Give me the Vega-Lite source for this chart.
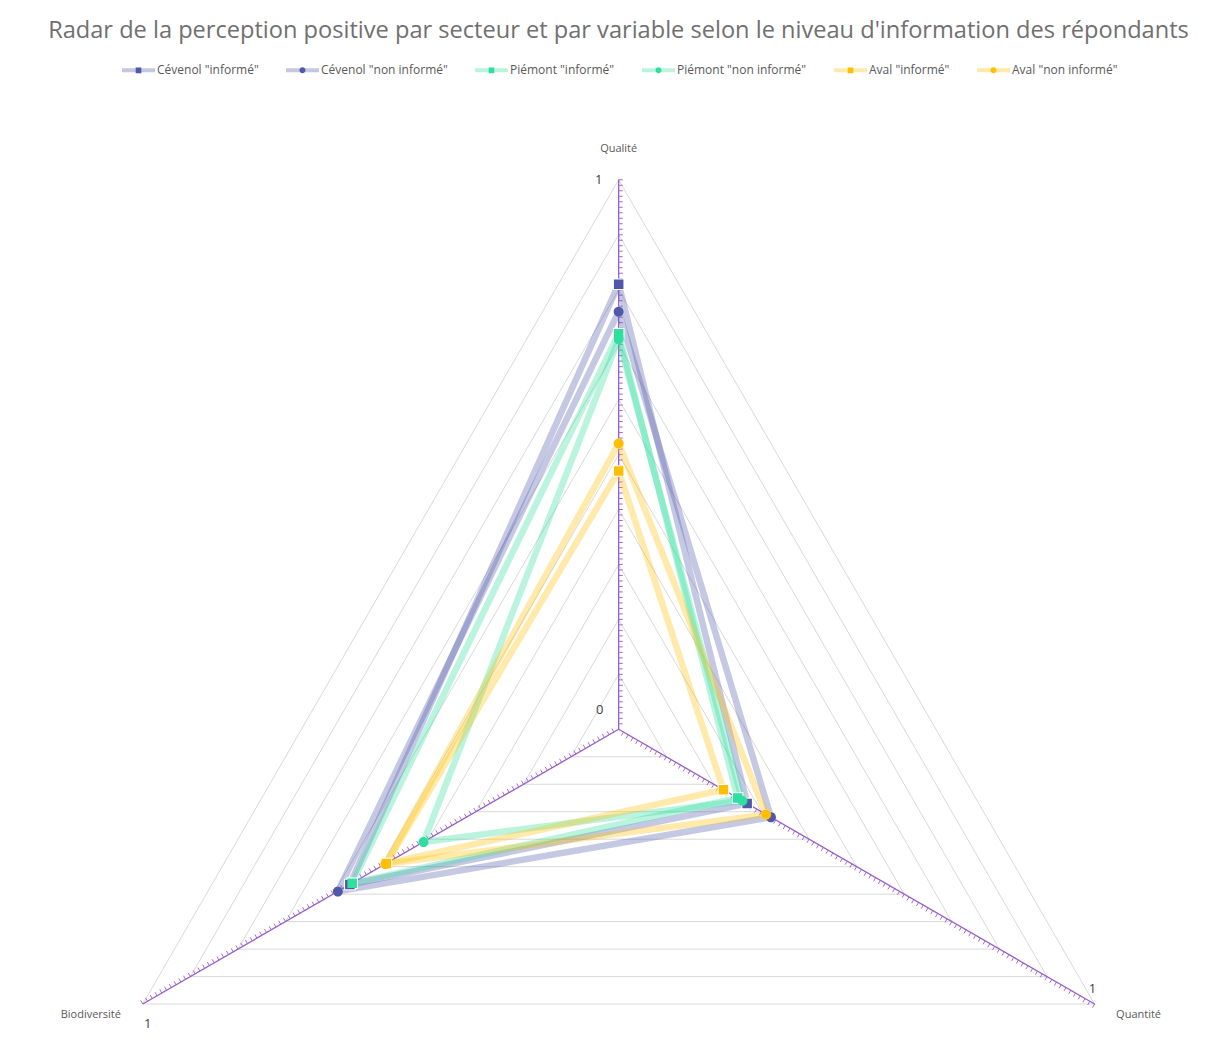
{
  "$schema": "https://vega.github.io/schema/vega-lite/v6.json",
  "width": 1215,
  "height": 960,
  "autosize": {"type": "none"},
  "padding": {"top": 90, "left": 0, "right": 0, "bottom": 0},
  "background": "#FFFFFF",
  "config": {"view": {"stroke": null}, "font": "Open Sans"},
  "title": {
    "text": "Radar de la perception positive par secteur et par variable selon le niveau d'information des répondants",
    "font": "Open Sans",
    "fontSize": 23.6,
    "fontWeight": "normal",
    "color": "#707070",
    "anchor": "middle",
    "frame": "group",
    "dx": 11,
    "offset": -3,
    "baseline": "middle"
  },
  "encoding": {
    "x": {"field": "x", "type": "quantitative", "scale": {"domain": [-1.1259, 1.0852], "nice": false, "zero": false}, "axis": null},
    "y": {"field": "y", "type": "quantitative", "scale": {"domain": [-0.5836, 1.1634], "nice": false, "zero": false}, "axis": null}
  },
  "layer": [
    {
      "data": {"values": [{"niveaux": [0.1, 0.2, 0.3, 0.4, 0.5, 0.6, 0.7, 0.8, 0.9, 1.0], "variables": ["Qualité", "Quantité", "Biodiversité"]}]},
      "transform": [
        {"flatten": ["niveaux"], "as": ["niveau"]},
        {"flatten": ["variables"], "as": ["variable"]},
        {"calculate": "indexof(['Qualité','Quantité','Biodiversité'], datum.variable)", "as": "k"},
        {"calculate": "datum.niveau*sin(datum.k*2*PI/3)", "as": "x"},
        {"calculate": "datum.niveau*cos(datum.k*2*PI/3)", "as": "y"}
      ],
      "mark": {"type": "line", "interpolate": "linear-closed", "color": "#D9D9D9", "strokeWidth": 1},
      "encoding": {"detail": {"field": "niveau", "type": "nominal"}, "order": {"field": "k", "type": "quantitative"}}
    },
    {
      "data": {"values": [{"variable": "Qualité"}, {"variable": "Quantité"}, {"variable": "Biodiversité"}]},
      "transform": [
        {"calculate": "indexof(['Qualité','Quantité','Biodiversité'], datum.variable)", "as": "k"},
        {"calculate": "0", "as": "x"},
        {"calculate": "0", "as": "y"},
        {"calculate": "sin(datum.k*2*PI/3)", "as": "x2"},
        {"calculate": "cos(datum.k*2*PI/3)", "as": "y2"}
      ],
      "mark": {"type": "rule", "color": "#9A5CC9", "strokeWidth": 1.3},
      "encoding": {"x2": {"field": "x2"}, "y2": {"field": "y2"}}
    },
    {
      "data": {"values": [{"variables": ["Qualité", "Quantité", "Biodiversité"], "graduations": [0.01, 0.02, 0.03, 0.04, 0.05, 0.06, 0.07, 0.08, 0.09, 0.1, 0.11, 0.12, 0.13, 0.14, 0.15, 0.16, 0.17, 0.18, 0.19, 0.2, 0.21, 0.22, 0.23, 0.24, 0.25, 0.26, 0.27, 0.28, 0.29, 0.3, 0.31, 0.32, 0.33, 0.34, 0.35, 0.36, 0.37, 0.38, 0.39, 0.4, 0.41, 0.42, 0.43, 0.44, 0.45, 0.46, 0.47, 0.48, 0.49, 0.5, 0.51, 0.52, 0.53, 0.54, 0.55, 0.56, 0.57, 0.58, 0.59, 0.6, 0.61, 0.62, 0.63, 0.64, 0.65, 0.66, 0.67, 0.68, 0.69, 0.7, 0.71, 0.72, 0.73, 0.74, 0.75, 0.76, 0.77, 0.78, 0.79, 0.8, 0.81, 0.82, 0.83, 0.84, 0.85, 0.86, 0.87, 0.88, 0.89, 0.9, 0.91, 0.92, 0.93, 0.94, 0.95, 0.96, 0.97, 0.98, 0.99, 1.0]}]},
      "transform": [
        {"flatten": ["variables"], "as": ["variable"]},
        {"flatten": ["graduations"], "as": ["t"]},
        {"calculate": "indexof(['Qualité','Quantité','Biodiversité'], datum.variable)", "as": "k"},
        {"calculate": "datum.t*sin(datum.k*2*PI/3)", "as": "x"},
        {"calculate": "datum.t*cos(datum.k*2*PI/3)", "as": "y"},
        {"calculate": "datum.x + 0.0075*cos(datum.k*2*PI/3)", "as": "x2"},
        {"calculate": "datum.y - 0.0075*sin(datum.k*2*PI/3)", "as": "y2"}
      ],
      "mark": {"type": "rule", "color": "#9A5CC9", "strokeWidth": 0.9},
      "encoding": {"x2": {"field": "x2"}, "y2": {"field": "y2"}}
    },
    {
      "data": {"name": "series", "values": [
        {"serie": "Cévenol \"informé\"", "variable": "Qualité", "valeur": 0.81},
        {"serie": "Cévenol \"informé\"", "variable": "Quantité", "valeur": 0.27},
        {"serie": "Cévenol \"informé\"", "variable": "Biodiversité", "valeur": 0.565},
        {"serie": "Cévenol \"non informé\"", "variable": "Qualité", "valeur": 0.76},
        {"serie": "Cévenol \"non informé\"", "variable": "Quantité", "valeur": 0.32},
        {"serie": "Cévenol \"non informé\"", "variable": "Biodiversité", "valeur": 0.59},
        {"serie": "Piémont \"informé\"", "variable": "Qualité", "valeur": 0.72},
        {"serie": "Piémont \"informé\"", "variable": "Quantité", "valeur": 0.25},
        {"serie": "Piémont \"informé\"", "variable": "Biodiversité", "valeur": 0.56},
        {"serie": "Piémont \"non informé\"", "variable": "Qualité", "valeur": 0.71},
        {"serie": "Piémont \"non informé\"", "variable": "Quantité", "valeur": 0.26},
        {"serie": "Piémont \"non informé\"", "variable": "Biodiversité", "valeur": 0.41},
        {"serie": "Aval \"informé\"", "variable": "Qualité", "valeur": 0.47},
        {"serie": "Aval \"informé\"", "variable": "Quantité", "valeur": 0.22},
        {"serie": "Aval \"informé\"", "variable": "Biodiversité", "valeur": 0.488},
        {"serie": "Aval \"non informé\"", "variable": "Qualité", "valeur": 0.52},
        {"serie": "Aval \"non informé\"", "variable": "Quantité", "valeur": 0.31},
        {"serie": "Aval \"non informé\"", "variable": "Biodiversité", "valeur": 0.49}
      ]},
      "transform": [
        {"calculate": "indexof(['Qualité','Quantité','Biodiversité'], datum.variable)", "as": "k"},
        {"calculate": "datum.valeur*sin(datum.k*2*PI/3)", "as": "x"},
        {"calculate": "datum.valeur*cos(datum.k*2*PI/3)", "as": "y"}
      ],
      "layer": [
        {
          "mark": {"type": "line", "interpolate": "linear-closed", "strokeWidth": 6.5, "strokeOpacity": 0.33, "strokeJoin": "round"},
          "encoding": {
            "stroke": {
              "field": "serie", "type": "nominal", "sort": null,
              "scale": {
                "range": ["#5059A9", "#5059A9", "#2EDF9E", "#2EDF9E", "#FFBF00", "#FFBF00"]
              },
              "legend": {
                "orient": "none", "legendX": 120, "legendY": -38.5, "direction": "horizontal", "title": null,
                "symbolType": "M-1,0H1", "symbolSize": 1089, "symbolStrokeWidth": 4, "symbolOpacity": 0.33,
                "labelFont": "Open Sans", "labelFontSize": 12, "labelColor": "#595959", "labelOffset": 0,
                "columnPadding": 19, "padding": 0, "zindex": 0
              }
            },
            "order": {"field": "k", "type": "quantitative"}
          }
        },
        {
          "transform": [{"filter": "indexof(datum.serie, 'non') < 0"}],
          "mark": {"type": "point", "shape": "square", "filled": true, "size": 135, "color": "white", "opacity": 1}
        },
        {
          "transform": [{"filter": "indexof(datum.serie, 'non') >= 0"}],
          "mark": {"type": "point", "shape": "circle", "filled": true, "size": 105, "color": "white", "opacity": 1}
        },
        {
          "mark": {"type": "point", "filled": true, "size": 3125, "strokeWidth": 0, "opacity": 1},
          "encoding": {
            "fill": {
              "field": "serie", "type": "nominal",
              "scale": {
                "domain": ["Cévenol \"informé\"", "Cévenol \"non informé\"", "Piémont \"informé\"", "Piémont \"non informé\"", "Aval \"informé\"", "Aval \"non informé\""],
                "range": ["#5059A9", "#5059A9", "#2EDF9E", "#2EDF9E", "#FFBF00", "#FFBF00"]
              },
              "legend": {
                "orient": "none", "legendX": 120, "legendY": -38.5, "direction": "horizontal", "title": null,
                "symbolSize": 1089, "symbolStrokeWidth": 4, "symbolStrokeColor": "transparent", "symbolOpacity": 1,
                "labelFont": "Open Sans", "labelFontSize": 12, "labelColor": "#595959", "labelOpacity": 0, "labelOffset": 0,
                "columnPadding": 19, "padding": 0, "zindex": 1
              }
            },
            "shape": {
              "field": "serie", "type": "nominal",
              "scale": {
                "domain": ["Cévenol \"informé\"", "Cévenol \"non informé\"", "Piémont \"informé\"", "Piémont \"non informé\"", "Aval \"informé\"", "Aval \"non informé\""],
                "range": [
                  "M-1,0H1M-0.17,-0.17H0.17V0.17H-0.17Z",
                  "M-1,0H1M0.18,0A0.18,0.18,0,1,1,-0.18,0A0.18,0.18,0,1,1,0.18,0Z",
                  "M-1,0H1M-0.17,-0.17H0.17V0.17H-0.17Z",
                  "M-1,0H1M0.18,0A0.18,0.18,0,1,1,-0.18,0A0.18,0.18,0,1,1,0.18,0Z",
                  "M-1,0H1M-0.17,-0.17H0.17V0.17H-0.17Z",
                  "M-1,0H1M0.18,0A0.18,0.18,0,1,1,-0.18,0A0.18,0.18,0,1,1,0.18,0Z"
                ]
              },
              "legend": {
                "orient": "none", "legendX": 120, "legendY": -38.5, "direction": "horizontal", "title": null,
                "symbolSize": 1089, "symbolStrokeWidth": 4, "symbolStrokeColor": "transparent", "symbolOpacity": 1,
                "labelFont": "Open Sans", "labelFontSize": 12, "labelColor": "#595959", "labelOpacity": 0, "labelOffset": 0,
                "columnPadding": 19, "padding": 0, "zindex": 1
              }
            }
          }
        }
      ]
    },
    {
      "data": {"values": [{"label": "Qualité", "variable": "Qualité", "r": 1}]},
      "transform": [
        {"calculate": "indexof(['Qualité','Quantité','Biodiversité'], datum.variable)", "as": "k"},
        {"calculate": "datum.r*sin(datum.k*2*PI/3)", "as": "x"},
        {"calculate": "datum.r*cos(datum.k*2*PI/3)", "as": "y"}
      ],
      "mark": {"type": "text", "font": "Open Sans", "fontSize": 11, "color": "#595959", "align": "center", "baseline": "middle", "dy": -31},
      "encoding": {"text": {"field": "label"}}
    },
    {
      "data": {"values": [{"label": "Quantité", "variable": "Quantité", "r": 1}]},
      "transform": [
        {"calculate": "indexof(['Qualité','Quantité','Biodiversité'], datum.variable)", "as": "k"},
        {"calculate": "datum.r*sin(datum.k*2*PI/3)", "as": "x"},
        {"calculate": "datum.r*cos(datum.k*2*PI/3)", "as": "y"}
      ],
      "mark": {"type": "text", "font": "Open Sans", "fontSize": 11, "color": "#595959", "align": "center", "baseline": "middle", "dx": 44, "dy": 11},
      "encoding": {"text": {"field": "label"}}
    },
    {
      "data": {"values": [{"label": "Biodiversité", "variable": "Biodiversité", "r": 1}]},
      "transform": [
        {"calculate": "indexof(['Qualité','Quantité','Biodiversité'], datum.variable)", "as": "k"},
        {"calculate": "datum.r*sin(datum.k*2*PI/3)", "as": "x"},
        {"calculate": "datum.r*cos(datum.k*2*PI/3)", "as": "y"}
      ],
      "mark": {"type": "text", "font": "Open Sans", "fontSize": 11, "color": "#595959", "align": "center", "baseline": "middle", "dx": -52, "dy": 11},
      "encoding": {"text": {"field": "label"}}
    },
    {
      "data": {"values": [{"label": "1", "variable": "Qualité", "r": 1}]},
      "transform": [
        {"calculate": "indexof(['Qualité','Quantité','Biodiversité'], datum.variable)", "as": "k"},
        {"calculate": "datum.r*sin(datum.k*2*PI/3)", "as": "x"},
        {"calculate": "datum.r*cos(datum.k*2*PI/3)", "as": "y"}
      ],
      "mark": {"type": "text", "font": "Open Sans", "fontSize": 13, "color": "#404040", "align": "center", "baseline": "middle", "dx": -20, "dy": 0},
      "encoding": {"text": {"field": "label"}}
    },
    {
      "data": {"values": [{"label": "0", "variable": "Qualité", "r": 0}]},
      "transform": [
        {"calculate": "indexof(['Qualité','Quantité','Biodiversité'], datum.variable)", "as": "k"},
        {"calculate": "datum.r*sin(datum.k*2*PI/3)", "as": "x"},
        {"calculate": "datum.r*cos(datum.k*2*PI/3)", "as": "y"}
      ],
      "mark": {"type": "text", "font": "Open Sans", "fontSize": 13, "color": "#404040", "align": "center", "baseline": "middle", "dx": -19, "dy": -19},
      "encoding": {"text": {"field": "label"}}
    },
    {
      "data": {"values": [{"label": "1", "variable": "Quantité", "r": 1}]},
      "transform": [
        {"calculate": "indexof(['Qualité','Quantité','Biodiversité'], datum.variable)", "as": "k"},
        {"calculate": "datum.r*sin(datum.k*2*PI/3)", "as": "x"},
        {"calculate": "datum.r*cos(datum.k*2*PI/3)", "as": "y"}
      ],
      "mark": {"type": "text", "font": "Open Sans", "fontSize": 13, "color": "#404040", "align": "center", "baseline": "middle", "dx": -2, "dy": -15},
      "encoding": {"text": {"field": "label"}}
    },
    {
      "data": {"values": [{"label": "1", "variable": "Biodiversité", "r": 1}]},
      "transform": [
        {"calculate": "indexof(['Qualité','Quantité','Biodiversité'], datum.variable)", "as": "k"},
        {"calculate": "datum.r*sin(datum.k*2*PI/3)", "as": "x"},
        {"calculate": "datum.r*cos(datum.k*2*PI/3)", "as": "y"}
      ],
      "mark": {"type": "text", "font": "Open Sans", "fontSize": 13, "color": "#404040", "align": "center", "baseline": "middle", "dx": 5, "dy": 20},
      "encoding": {"text": {"field": "label"}}
    }
  ]
}
